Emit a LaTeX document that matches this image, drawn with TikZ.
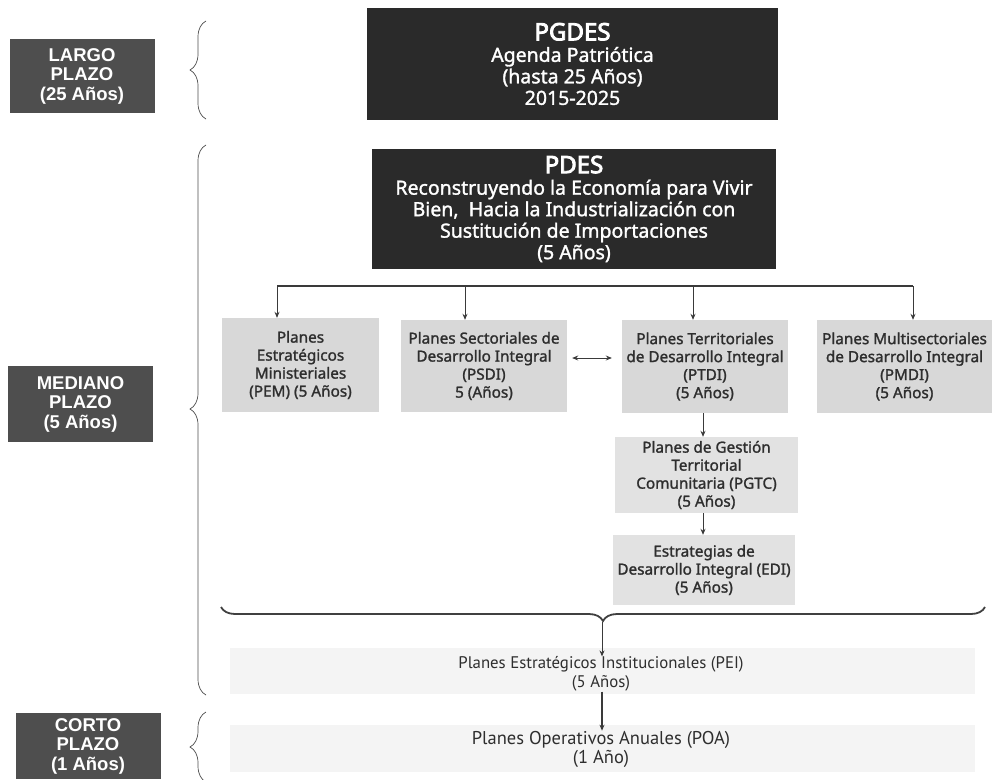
\documentclass[tikz,border=0pt]{standalone}
\usepackage{fontspec}
\setmainfont{Noto Sans}
\newfontfamily\boxfont{Noto Sans}[FakeBold=1.5]
\newfontfamily\titlefont{Noto Sans}[FakeBold=3.5]
\newfontfamily\labelfont{Liberation Sans}
\newfontfamily\narrowfont{PT Sans}
\newcommand\plantitle{\titlefont\fontsize{24}{24}\selectfont}
\usetikzlibrary{arrows.meta,decorations.pathreplacing,calc}

\definecolor{darkbox}{HTML}{2A2A2A}
\definecolor{termbox}{HTML}{4E4E4E}
\definecolor{planbox}{HTML}{D8D8D8}
\definecolor{subbox}{HTML}{E2E2E2}
\definecolor{band}{HTML}{F4F4F4}
\definecolor{plantext}{HTML}{2E2E2E}
\definecolor{wire}{HTML}{3A3A3A}

\tikzset{
  termlabel/.style={fill=termbox, text=white, font=\labelfont\bfseries\fontsize{18.5}{19.5}\selectfont,
    align=center, inner sep=0pt, minimum width=145pt},
  headbox/.style={fill=darkbox, text=white, font=\boxfont\fontsize{19.5}{21.5}\selectfont,
    align=center, inner sep=0pt},
  planbox/.style={fill=planbox, text=plantext, font=\boxfont\fontsize{15.3}{18}\selectfont,
    align=center, inner sep=0pt},
  subplan/.style={planbox, fill=subbox},
  bandtext/.style={text=plantext, font=\narrowfont\fontsize{16.8}{19}\selectfont, align=center, inner sep=0pt},
  feed/.style={draw=wire, line width=0.8pt, -{Stealth[length=6pt,width=5pt]}},
  bus/.style={draw=wire, line width=1.1pt},
  period/.style={draw=black!70, line width=0.7pt, decorate, decoration={brace, amplitude=16pt}},
}

\begin{document}
\begin{tikzpicture}[x=1pt, y=-1pt]
\useasboundingbox (0,0) rectangle (992,779);

% faint bands behind the institutional and annual plans
\fill[band] (230,648) rectangle (975,694);
\fill[band] (230,725) rectangle (975,772);

% time horizons
\node[termlabel, minimum height=74pt] (largo) at (82,76) {LARGO\\PLAZO\\(25 Años)};
\node[termlabel, minimum height=76pt] (mediano) at (80.5,404) {MEDIANO\\PLAZO\\(5 Años)};
\node[termlabel, minimum height=66pt] (corto) at (88,746) {CORTO\\PLAZO\\(1 Años)};

\coordinate (bLt) at (206,21);  \coordinate (bLb) at (206,119);
\coordinate (bMt) at (206,145); \coordinate (bMb) at (206,695);
\coordinate (bCt) at (206,712); \coordinate (bCb) at (206,782);
\draw[period] (bLb) -- (bLt);
\draw[period, decoration={brace, amplitude=16pt, aspect=0.52}] (bMb) -- (bMt);
\draw[period] (bCb) -- (bCt);

% national plans
\node[headbox, minimum width=411pt, minimum height=112pt] (pgdes) at (572.5,64)
  {{\plantitle PGDES}\\Agenda Patriótica\\(hasta 25 Años)\\2015-2025};
\node[headbox, minimum width=404pt, minimum height=120pt] (pdes) at (574,209)
  {{\plantitle PDES}\\Reconstruyendo la Economía para Vivir\\Bien,\ \ Hacia la Industrialización con\\Sustitución de Importaciones\\(5 Años)};

% sector and territory plans
\node[planbox, minimum width=157pt, minimum height=94pt] (pem) at (300.5,365)
  {Planes\\Estratégicos\\Ministeriales\\(PEM) (5 Años)};
\node[planbox, minimum width=166pt, minimum height=92pt] (psdi) at (484,366)
  {Planes Sectoriales de\\Desarrollo Integral\\(PSDI)\\5 (Años)};
\node[planbox, minimum width=166pt, minimum height=93pt] (ptdi) at (705,366.5)
  {Planes Territoriales\\de Desarrollo Integral\\(PTDI)\\(5 Años)};
\node[planbox, minimum width=175pt, minimum height=93pt] (pmdi) at (904.5,366.5)
  {Planes Multisectoriales\\de Desarrollo Integral\\(PMDI)\\(5 Años)};
\node[subplan, minimum width=183pt, minimum height=76pt] (pgtc) at (706.5,475)
  {Planes de Gestión\\Territorial\\Comunitaria (PGTC)\\(5 Años)};
\node[subplan, minimum width=182pt, minimum height=70pt] (edi) at (704,570)
  {Estrategias de\\Desarrollo Integral (EDI)\\(5 Años)};

% distribution bus under the PDES
\coordinate (t1) at (277,286);
\coordinate (t2) at (465,286);
\coordinate (t3) at (693,286);
\coordinate (t4) at (913,286);
\draw[bus] (t1) -- (t4);
\draw[feed] (t1) -- (t1 |- pem.north);
\draw[feed] (t2) -- (t2 |- psdi.north);
\draw[feed] (t3) -- (t3 |- ptdi.north);
\draw[feed] (t4) -- (t4 |- pmdi.north);
\draw[draw=wire, line width=0.8pt, {Stealth[length=6pt,width=5pt]}-{Stealth[length=6pt,width=5pt]}]
  ([xshift=5pt]psdi.east |- 0,358) -- ([xshift=-10pt]ptdi.west |- 0,358);
\draw[feed] ([xshift=-2pt]ptdi.south) -- ([xshift=-3.5pt]pgtc.north);
\draw[feed] ([xshift=-3.5pt]pgtc.south) -- ([xshift=-1pt]edi.north);

% gathering brace and the plans that follow
\coordinate (gR) at (985,607);
\coordinate (gL) at (221,607);
\draw[period, draw=black!75, line width=1.8pt, decoration={brace, amplitude=14pt}] (gR) -- (gL);
\node[bandtext] (pei) at (601,674) {Planes Estratégicos Institucionales (PEI)\\(5 Años)};
\node[bandtext, font=\narrowfont\fontsize{18.5}{19}\selectfont] (poa) at (601,749) {Planes Operativos Anuales (POA)\\(1 Año)};
\draw[feed] (602,622) -- ([xshift=1pt]pei.north);
\draw[feed, line width=1.4pt] ([xshift=1pt]pei.south) -- ([xshift=1pt]poa.north);
\end{tikzpicture}
\end{document}
